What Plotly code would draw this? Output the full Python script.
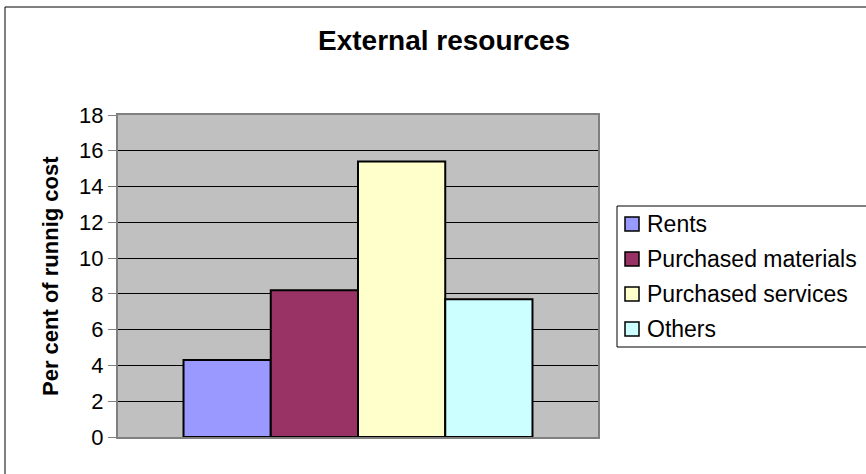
import plotly.graph_objects as go

# Cost shares of external resources, per cent of running cost
series_names = ["Rents", "Purchased materials", "Purchased services", "Others"]
series_values = [4.3, 8.2, 15.4, 7.7]
series_colors = ["#9999FF", "#993366", "#FFFFCC", "#CCFFFF"]
category = [""]
y_ticks = [0, 2, 4, 6, 8, 10, 12, 14, 16, 18]

W, H = 866, 474
L, R, T, B = 118, 598, 115, 437  # plot area in pixels


def px_x(x):
    return (x - L) / (R - L)


def px_y(y):
    return (B - y) / (B - T)


FONT = "Liberation Sans, Arial, sans-serif"

fig = go.Figure()
for name, val, col in zip(series_names, series_values, series_colors):
    fig.add_trace(go.Bar(
        x=category, y=[val], name=name, showlegend=False,
        marker=dict(color=col, line=dict(color="black", width=2)),
    ))

# outer chart frame
shapes = [dict(type="rect", xref="paper", yref="paper",
               x0=px_x(5), x1=px_x(872), y0=px_y(490), y1=px_y(7),
               line=dict(color="black", width=1), layer="below")]

# legend box with colour keys
LEG_LEFT, LEG_TOP, LEG_BOTTOM = 617, 206, 347
ITEM_Y0, ITEM_STEP = 224, 35
shapes.append(dict(type="rect", xref="paper", yref="paper",
                   x0=px_x(LEG_LEFT), x1=px_x(900),
                   y0=px_y(LEG_BOTTOM), y1=px_y(LEG_TOP),
                   line=dict(color="black", width=1), fillcolor="white",
                   layer="above"))
annotations = []
for i, (name, col) in enumerate(zip(series_names, series_colors)):
    cy = ITEM_Y0 + i * ITEM_STEP
    shapes.append(dict(type="rect", xref="paper", yref="paper",
                       x0=px_x(625), x1=px_x(639),
                       y0=px_y(cy + 7), y1=px_y(cy - 7),
                       line=dict(color="black", width=1.5), fillcolor=col,
                       layer="above"))
    annotations.append(dict(text=name, xref="paper", yref="paper",
                            x=px_x(645), y=px_y(cy), xanchor="left",
                            yanchor="middle", showarrow=False,
                            font=dict(family=FONT, size=23, color="black")))

annotations += [
    dict(text="<b>External resources</b>", xref="paper", yref="paper",
         x=px_x(444), y=px_y(41), xanchor="center", yanchor="middle",
         showarrow=False, font=dict(family=FONT, size=28, color="black")),
    dict(text="<b>Per cent of runnig cost</b>", xref="paper", yref="paper",
         x=px_x(50), y=px_y(276), xanchor="center", yanchor="middle",
         textangle=-90, showarrow=False,
         font=dict(family=FONT, size=22, color="black")),
]

fig.update_layout(
    width=W, height=H,
    margin=dict(l=L, r=W - R, t=T, b=H - B, pad=0),
    paper_bgcolor="white",
    plot_bgcolor="#C0C0C0",
    barmode="group", bargap=0.273, bargroupgap=0,
    font=dict(family=FONT, size=22, color="black"),
    showlegend=False,
    xaxis=dict(showticklabels=False, ticks="", showgrid=False,
               showline=True, linecolor="#808080", linewidth=2, mirror=True),
    yaxis=dict(range=[0, 18], tickvals=y_ticks, showgrid=True,
               gridcolor="black", gridwidth=1, ticks="outside", ticklen=8,
               tickcolor="#808080", showline=True, linecolor="#808080",
               linewidth=2, mirror=True, zeroline=False,
               tickfont=dict(family=FONT, size=22, color="black")),
    shapes=shapes,
    annotations=annotations,
)

fig.write_html("out.html")
